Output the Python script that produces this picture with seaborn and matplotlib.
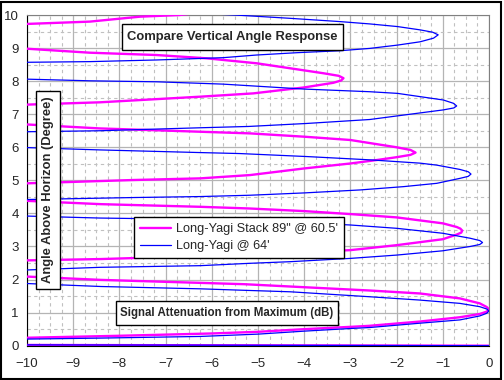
import seaborn as sns
import matplotlib.pyplot as plt
import pandas as pd
from matplotlib.ticker import MultipleLocator
from matplotlib.patches import Rectangle

# Long-Yagi Stack 89" @ 60.5'  (angle in degrees, attenuation in dB)
stack_angle = [0, 0.1,
               0.24, 0.30, 0.37, 0.42, 0.50, 0.57, 0.60, 0.73, 0.86, 0.96, 1.03, 1.10,
               1.17, 1.28, 1.43, 1.58, 1.67, 1.86, 1.90, 1.99, 2.09, 2.33,
               2.58, 2.62, 2.71, 2.76, 2.83, 2.89, 3.04, 3.22, 3.36, 3.42, 3.48,
               3.54, 3.59, 3.70, 3.88, 3.98, 4.07, 4.15, 4.20, 4.28, 4.38, 4.65,
               4.91, 5.01, 5.06, 5.16, 5.36, 5.51, 5.62, 5.70, 5.77, 5.84,
               5.92, 6.00, 6.22, 6.32, 6.42, 6.47, 6.57, 6.69, 7.00,
               7.29, 7.36, 7.53, 7.63, 7.81, 7.95, 8.02, 8.09,
               8.16, 8.24, 8.39, 8.54, 8.69, 8.79, 8.86, 8.98, 9.35,
               9.73, 9.80, 9.95, 10.0, 10.2]
stack_db = [0, -45,
            -10, -8, -6, -5, -4, -3, -2.6, -1.5, -0.63, -0.2, -0.05, 0,
            -0.05, -0.2, -0.63, -1.5, -2.6, -5.3, -6.25, -8.4, -10, -40,
            -10, -8.4, -6.25, -5.2, -4, -3, -2, -1, -0.7, -0.6, -0.58,
            -0.62, -0.7, -1, -2, -3, -4, -5.2, -6.25, -8.4, -10, -40,
            -10, -7.7, -6.25, -5.17, -4, -3, -2.4, -2, -1.7, -1.59,
            -1.7, -2, -3, -4, -5.17, -6.25, -8.42, -10, -40,
            -10, -8.42, -6.25, -5.1, -4, -3.37, -3.2, -3.15,
            -3.25, -3.59, -4.31, -5.03, -6.11, -7.2, -8.64, -10, -40,
            -10, -8.64, -7.55, -6.7, -5.5]

# Long-Yagi @ 64'
single_angle = [0, 0.1,
                0.20, 0.23, 0.28, 0.35, 0.44, 0.52, 0.55, 0.68, 0.78, 0.90, 0.98, 1.05,
                1.11, 1.18, 1.28, 1.38, 1.48, 1.63, 1.68, 1.72, 1.79, 1.88, 2.10,
                2.29, 2.37, 2.42, 2.49, 2.54, 2.64, 2.74, 2.87, 3.00, 3.06, 3.12,
                3.18, 3.25, 3.40, 3.55, 3.65, 3.80, 3.86, 3.92, 4.17,
                4.42, 4.48, 4.51, 4.55, 4.62, 4.71, 4.81, 4.91, 5.06, 5.12, 5.19,
                5.26, 5.33, 5.46, 5.52, 5.62, 5.72, 5.81, 5.84, 5.92, 5.99, 6.23,
                6.47, 6.50, 6.59, 6.63, 6.72, 6.84, 6.95, 7.13, 7.19, 7.25,
                7.33, 7.43, 7.63, 7.68, 7.76, 7.86, 7.91, 7.98, 8.01, 8.06, 8.30,
                8.57, 8.59, 8.64, 8.71, 8.79, 8.86, 8.92, 8.99, 9.09, 9.19, 9.30, 9.40,
                9.48, 9.55, 9.65, 9.73, 9.80, 9.90, 10.0, 10.1]
single_db = [0, -40,
             -10, -8.4, -6.25, -5, -4, -3, -2.58, -1.5, -0.63, -0.2, -0.05, 0,
             -0.05, -0.2, -0.63, -1.5, -2.58, -4.3, -5.4, -6.25, -8.4, -10, -40,
             -10, -8.42, -6.25, -5.2, -4.31, -3, -2, -1, -0.41, -0.2, -0.14,
             -0.2, -0.41, -1, -2, -3, -5.2, -8.42, -10, -40,
             -10, -7.7, -6.25, -5.17, -4, -2.79, -1.85, -1.13, -0.63, -0.45, -0.39,
             -0.45, -0.63, -1.13, -1.49, -2.58, -3.95, -5.39, -6.25, -8.42, -10, -40,
             -10, -8.42, -6.25, -5.2, -3.95, -2.58, -1.98, -0.99, -0.76, -0.7,
             -0.77, -0.99, -1.98, -2.58, -4, -5.17, -5.76, -7.19, -8.64, -10, -40,
             -10, -8.64, -7.2, -5.75, -5.03, -4.16, -3.22, -2.58, -1.98, -1.49, -1.2, -1.1,
             -1.22, -1.49, -1.98, -2.58, -3.22, -4.31, -5.5, -7]

stack_label = "Long-Yagi Stack 89\" @ 60.5'"
single_label = "Long-Yagi @ 64'"

df_stack = pd.DataFrame({"dB": stack_db, "Angle": stack_angle})
df_single = pd.DataFrame({"dB": single_db, "Angle": single_angle})

sns.set_style("white")
plt.rcParams["font.family"] = ["Liberation Sans", "DejaVu Sans"]

W, H = 504, 380
fig = plt.figure(figsize=(W / 100, H / 100), dpi=100)
ax = fig.add_axes([27 / W, (H - 345.7) / H, 462 / W, 330.7 / H])

sns.lineplot(data=df_stack, x="dB", y="Angle", sort=False, estimator=None,
             color="#FF00FF", linewidth=1.7, label=stack_label, ax=ax, zorder=3)
sns.lineplot(data=df_single, x="dB", y="Angle", sort=False, estimator=None,
             color="#0000FF", linewidth=0.9, label=single_label, ax=ax, zorder=4)

ax.set_xlim(-10, 0)
ax.set_ylim(0, 10)
ax.set_xticks(range(-10, 1))
ax.set_yticks(range(0, 11))
ax.xaxis.set_minor_locator(MultipleLocator(0.25))
ax.yaxis.set_minor_locator(MultipleLocator(0.5))
ax.grid(which="major", color="#b4b4b4", linewidth=0.9, linestyle="-")
ax.grid(which="minor", color="#c0c0c0", linewidth=0.8, linestyle=(0, (3, 3)))
ax.set_axisbelow(True)
ax.tick_params(axis="x", which="major", direction="out", length=4, width=1,
               color="black", labelsize=9.5, pad=5)
ax.tick_params(axis="x", which="minor", direction="out", length=3, width=1,
               color="black")
ax.tick_params(axis="y", which="major", direction="out", length=3, width=1,
               color="black", labelsize=9.5, pad=3)
ax.tick_params(axis="y", which="minor", length=0)
ax.set_xlabel("")
ax.set_ylabel("")
for side in ["top", "right"]:
    ax.spines[side].set_color("#808080")
for side in ["left", "bottom"]:
    ax.spines[side].set_color("black")


def boxed_text(x0, y0, x1, y1, text, size, rotation=0):
    # box given in pixel coords measured from the top-left corner
    fig.add_artist(Rectangle((x0 / W, 1 - y1 / H), (x1 - x0) / W, (y1 - y0) / H,
                             transform=fig.transFigure, facecolor="white",
                             edgecolor="black", linewidth=1, zorder=9))
    fig.text((x0 + x1) / 2 / W, 1 - (y0 + y1) / 2 / H, text, rotation=rotation,
             ha="center", va="center", fontsize=size, fontweight="bold", zorder=10)


boxed_text(122, 24, 343, 50, "Compare Vertical Angle Response", 9.4)
boxed_text(116, 301, 338, 325, "Signal Attenuation from Maximum (dB)", 8.3)
boxed_text(36, 91, 60, 289, "Angle Above Horizon (Degree)", 9.4, rotation=90)

leg = ax.legend(loc="upper left", bbox_to_anchor=(128 / W, 1 - 211 / H),
                bbox_transform=fig.transFigure, frameon=True, fancybox=False,
                framealpha=1, edgecolor="black", fontsize=9.2, handlelength=2.4,
                borderpad=0.45, labelspacing=0.4, handletextpad=0.4)
leg.get_frame().set_linewidth(1)
leg.set_zorder(10)

fig.add_artist(Rectangle((0.5 / W, 1.5 / H), 500 / W, 377 / H,
                         transform=fig.transFigure, fill=False,
                         edgecolor="black", linewidth=1.5))

fig.savefig("out.png", dpi=100)
plt.close(fig)
